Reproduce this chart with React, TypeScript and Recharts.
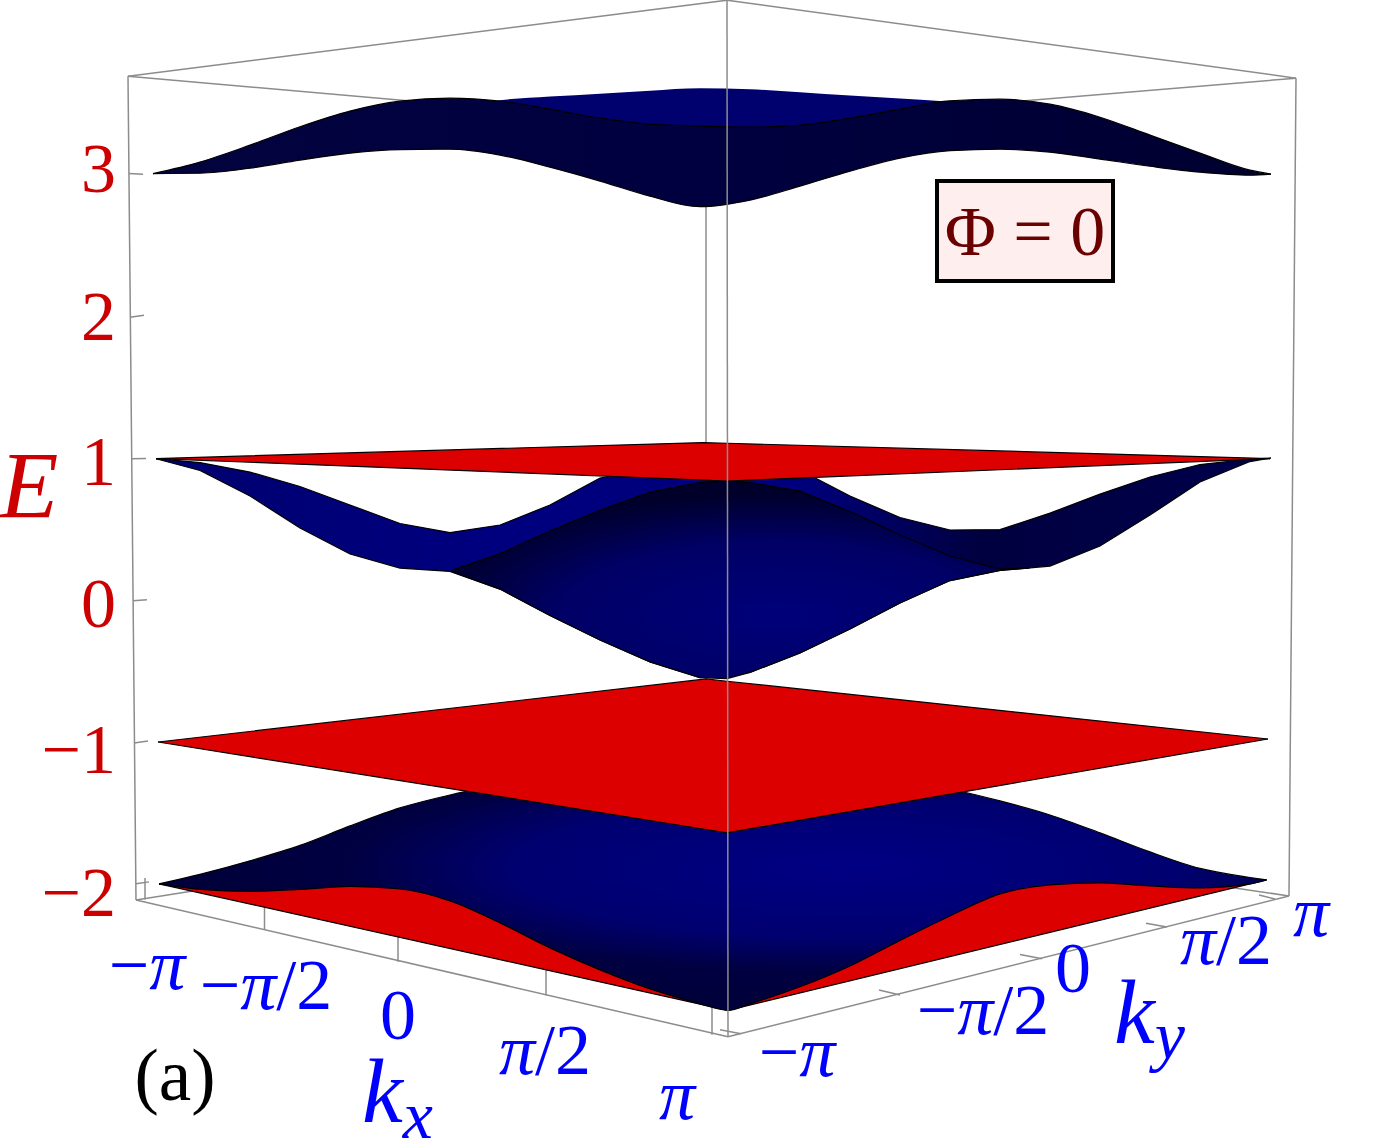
import React from 'react';
import { Area, ComposedChart, Line, ReferenceArea, ReferenceDot, XAxis, YAxis } from 'recharts';

// h = horizontal position in the projected view, E = energy as on the left axis
const SERIF = '"Liberation Serif", serif';
const RED = '#dd0000';
const TICK_RED = '#cc0000';
const BLUE = '#0000ff';
const GREY = '#8c8c8c';

const eTicks = [3, 2, 1, 0, -1, -2];
const eTickShift = [18, 24, 27, 27, 31, 32];

// upper band, around E = 3
const topH = [-5.47, -5, -4.5, -4, -3.5, -3, -2.5, -2, -1.5, -1, -0.5, 0, 0.5, 1, 1.5, 2, 2.5, 3, 3.5, 4, 4.5, 5, 5.5, 5.71];
const topUpper = [3.003, 3.084, 3.203, 3.333, 3.443, 3.513, 3.534, 3.513, 3.457, 3.393, 3.351, 3.337, 3.33, 3.344, 3.393, 3.457, 3.516, 3.527, 3.492, 3.4, 3.274, 3.147, 3.027, 2.999];
const topLower = [3.003, 3.006, 3.041, 3.098, 3.147, 3.172, 3.175, 3.133, 3.048, 2.95, 2.844, 2.77, 2.816, 2.915, 3.02, 3.112, 3.164, 3.175, 3.154, 3.105, 3.055, 3.013, 2.992, 2.999];

const topBackH = [-2.5, -2, -1.5, -1, -0.5, 0, 0.5, 1, 1.5, 2, 2.5];
const topBackUpper = [3.464, 3.52, 3.545, 3.566, 3.587, 3.604, 3.597, 3.576, 3.552, 3.531, 3.509];
const topBackLower = [3.3, 3.3, 3.3, 3.3, 3.3, 3.3, 3.3, 3.3, 3.3, 3.3, 3.3];

// flat band at E = 1
const flatHighH = [-5.44, 0.03, 0.27, 5.7];
const flatHighUpper = [0.996, 1.109, 1.104, 0.996];
const flatHighLower = [0.996, 0.845, 0.838, 0.996];

// middle band, the wings behind and the dome in front
const wingH = [-5.44, -5, -4.5, -4, -3.5, -3, -2.5, -2, -1.5, -1, -0.5, 0, 0.5, 1, 1.5, 2, 2.5, 3, 3.5, 4, 4.5, 5, 5.5, 5.71];
const wingUpper = [0.995, 0.968, 0.901, 0.799, 0.669, 0.539, 0.475, 0.528, 0.669, 0.859, 0.915, 0.915, 0.915, 0.915, 0.732, 0.581, 0.493, 0.496, 0.612, 0.746, 0.866, 0.954, 0.993, 1];
const wingLower = [0.995, 0.912, 0.732, 0.507, 0.324, 0.225, 0.201, 0.077, -0.109, -0.282, -0.436, -0.546, -0.51, -0.373, -0.204, -0.021, 0.137, 0.208, 0.239, 0.38, 0.598, 0.831, 0.975, 1];

const domeH = [-2.48, -2, -1.5, -1, -0.5, 0, 0.27, 0.5, 1, 1.5, 2, 2.5, 3, 3.295];
const domeUpper = [0.211, 0.327, 0.486, 0.634, 0.76, 0.827, 0.838, 0.827, 0.767, 0.623, 0.458, 0.31, 0.218, 0.226];
const domeLower = [0.199, 0.077, -0.109, -0.282, -0.436, -0.546, -0.553, -0.51, -0.373, -0.204, -0.021, 0.137, 0.208, 0.226];

// flat band at E = -1
const flatLowH = [-5.42, 0.06, 0.27, 5.68];
const flatLowUpper = [-1, -0.556, -0.572, -0.979];
const flatLowLower = [-1, -1.616, -1.64, -0.979];

// lowest blue band and the flat red one under it
const bottomH = [-5.41, -5, -4.5, -4, -3.5, -3, -2.5, -2, -1.5, -1, -0.5, 0, 0.28, 0.5, 1, 1.5, 2, 2.5, 3, 3.5, 4, 4.5, 5, 5.5, 5.665];
const bottomUpper = [-1.999, -1.932, -1.837, -1.728, -1.591, -1.464, -1.373, -1.302, -1.267, -1.267, -1.267, -1.267, -1.267, -1.267, -1.267, -1.267, -1.267, -1.331, -1.415, -1.514, -1.64, -1.774, -1.89, -1.954, -1.971];
const bottomLower = [-1.999, -2.038, -2.052, -2.038, -2.017, -2.035, -2.119, -2.274, -2.45, -2.605, -2.739, -2.844, -2.89, -2.844, -2.724, -2.577, -2.397, -2.225, -2.07, -2.006, -1.992, -2.013, -2.028, -1.999, -1.971];

const floorH = [-5.41, 0.28, 5.665];
const floorUpper = [-1.999, -1.83, -1.971];
const floorLower = [-1.999, -2.89, -1.971];

// box edges and tick marks, each one a [h, E, h, E] pair
const backEdges = [
  [-5.72, 3.689, 0.06, 3.33],
  [5.96, 3.675, 0.06, 3.33],
  [0.06, 3.33, 0.06, -1.478],
  [-5.64, -2.112, 0.06, -1.478],
  [5.89, -2.084, 0.06, -1.478],
];
const frontEdges = [
  [-5.72, 3.689, 0.27, 4.224],
  [0.27, 4.224, 5.96, 3.675],
  [-5.72, 3.689, -5.64, -2.112],
  [5.96, 3.675, 5.89, -2.084],
  [-5.64, -2.112, 0.28, -3.076],
  [0.28, -3.076, 5.89, -2.084],
];
const frontPost = [[0.27, 4.224, 0.28, -3.076]];
const kxMarks = [
  [-5.55, -1.957, -5.55, -2.109],
  [-4.355, -2.147, -4.355, -2.323],
  [-3.02, -2.351, -3.02, -2.548],
  [-1.54, -2.584, -1.54, -2.785],
  [0.12, -2.851, 0.12, -3.062],
];
const kyMarks = [
  [0.2, -3.027, 0.41, -3.055],
  [1.79, -2.746, 2.0, -2.781],
  [3.2, -2.496, 3.42, -2.527],
  [4.46, -2.277, 4.67, -2.302],
  [5.59, -2.077, 5.75, -2.105],
];
const eMarks = [
  [-5.71, 3.003, -5.57, 2.999],
  [-5.7, 1.992, -5.56, 2.006],
  [-5.68, 0.995, -5.54, 0.996],
  [-5.67, -0.005, -5.53, 0.002],
  [-5.66, -1.007, -5.52, -0.993],
  [-5.64, -1.999, -5.51, -1.985],
];

const kxLabels = ['−π', '−π/2', '0', 'π/2', 'π'];
const kxLabelH = [-5.53, -4.34, -3.02, -1.55, -0.23];
const kxLabelE = [-2.57, -2.71, -2.922, -3.168, -3.485];
const kyLabels = ['−π', '−π/2', '0', 'π/2', 'π'];
const kyLabelH = [0.97, 2.83, 3.73, 5.26, 6.11];
const kyLabelE = [-3.182, -2.886, -2.591, -2.394, -2.196];

const band = (hs: number[], upper: number[], lower: number[]) =>
  hs.map((h, i) => ({ h, range: [lower[i], upper[i]] }));

const segment = (s: number[]) => [
  { h: s[0], e: s[1] },
  { h: s[2], e: s[3] },
];

const ETick = (props: any) => {
  const i = eTicks.indexOf(props.payload.value);
  const label = props.payload.value < 0 ? `−${-props.payload.value}` : `${props.payload.value}`;
  return (
    <text x={116} y={props.y + eTickShift[i]} textAnchor="end" fontFamily={SERIF} fontSize={70} fill={TICK_RED}>
      {label}
    </text>
  );
};

// pi is set in italics, the rest upright
const piLabel = (label: string) => (props: any) => (
  <text x={props.cx} y={props.cy + 24} textAnchor="middle" fontFamily={SERIF} fontSize={72} fill={BLUE}>
    {label.split('').map((c, i) => (
      <tspan key={i} fontStyle={c === 'π' ? 'italic' : 'normal'}>
        {c}
      </tspan>
    ))}
  </text>
);

const subLabel = (main: string, sub: string) => (props: any) => (
  <text x={props.cx} y={props.cy} fontFamily={SERIF} fontStyle="italic" fontSize={92} fill={BLUE}>
    {main}
    <tspan fontSize={68} dy={16}>
      {sub}
    </tspan>
  </text>
);

const plainLabel = (text: string, size: number, color: string, italic = false) => (props: any) => (
  <text
    x={props.cx}
    y={props.cy}
    textAnchor="middle"
    fontFamily={SERIF}
    fontSize={size}
    fontStyle={italic ? 'italic' : 'normal'}
    fill={color}
  >
    {text}
  </text>
);

// z 50 keeps the box behind the surfaces, only the front post goes over them
const grey = (list: number[][], name: string, z = 50) =>
  list.map((s, i) => (
    <Line
      key={`${name}-${i}`}
      data={segment(s)}
      dataKey="e"
      stroke={GREY}
      strokeWidth={1.5}
      dot={false}
      activeDot={false}
      legendType="none"
      isAnimationActive={false}
      zIndex={z}
    />
  ));

const surface = (key: string, data: any[], fill: string, curve: any, stroke = '#000') => (
  <Area
    key={key}
    data={data}
    dataKey="range"
    type={curve}
    fill={fill}
    fillOpacity={1}
    stroke={stroke}
    strokeWidth={1.2}
    dot={false}
    activeDot={false}
    legendType="none"
    isAnimationActive={false}
  />
);

export default function App() {
  return (
    <div style={{ position: 'absolute', left: 0, top: 0, width: 1400, height: 1140, background: '#fff' }}>
      <ComposedChart width={1400} height={1140} margin={{ top: 0, right: 0, bottom: 0, left: 0 }}>
        <defs>
          <linearGradient id="topFront" x1="0" y1="0" x2="1" y2="0">
            <stop offset="0" stopColor="#03033f" />
            <stop offset="0.5" stopColor="#000040" />
            <stop offset="1" stopColor="#000030" />
          </linearGradient>
          <linearGradient id="wings" x1="0" y1="0" x2="1" y2="0">
            <stop offset="0" stopColor="#000070" />
            <stop offset="0.3" stopColor="#00007f" />
            <stop offset="0.58" stopColor="#00007c" />
            <stop offset="0.74" stopColor="#000040" />
            <stop offset="1" stopColor="#00004c" />
          </linearGradient>
          <radialGradient id="dome" cx="0.56" cy="0.68" r="0.62">
            <stop offset="0" stopColor="#00007a" />
            <stop offset="0.6" stopColor="#000066" />
            <stop offset="1" stopColor="#00002a" />
          </radialGradient>
          <radialGradient id="bottom" cx="0.62" cy="0.38" r="0.6">
            <stop offset="0" stopColor="#000084" />
            <stop offset="0.5" stopColor="#000070" />
            <stop offset="0.75" stopColor="#000042" />
            <stop offset="1" stopColor="#00003a" />
          </radialGradient>
        </defs>
        <XAxis dataKey="h" type="number" domain={[-7, 7]} hide allowDataOverflow />
        <YAxis
          type="number"
          domain={[-3.8028, 4.2254]}
          ticks={eTicks}
          interval={0}
          mirror
          axisLine={false}
          tickLine={false}
          tick={ETick}
          allowDataOverflow
        />

        {grey(backEdges, 'back')}
        {grey(frontEdges, 'front')}
        {grey(kxMarks, 'kx')}
        {grey(kyMarks, 'ky')}
        {grey(eMarks, 'e')}

        {surface('floor', band(floorH, floorUpper, floorLower), RED, 'linear')}
        {surface('bottom', band(bottomH, bottomUpper, bottomLower), 'url(#bottom)', 'monotone')}
        {surface('flatLow', band(flatLowH, flatLowUpper, flatLowLower), RED, 'linear')}
        {surface('wings', band(wingH, wingUpper, wingLower), 'url(#wings)', 'linear')}
        {surface('dome', band(domeH, domeUpper, domeLower), 'url(#dome)', 'linear')}
        {surface('flatHigh', band(flatHighH, flatHighUpper, flatHighLower), RED, 'linear')}
        {surface('topBack', band(topBackH, topBackUpper, topBackLower), '#00006e', 'monotone', 'none')}
        {surface('topFront', band(topH, topUpper, topLower), 'url(#topFront)', 'monotone')}

        {grey(frontPost, 'post', 400)}

        <ReferenceArea x1={2.37} x2={4.13} y1={2.246} y2={2.95} fill="#ffeeee" fillOpacity={1} stroke="#000" strokeWidth={4} />
        <ReferenceDot x={3.25} y={2.429} r={0} shape={plainLabel('Φ = 0', 70, '#6b0000')} />

        {kxLabels.map((label, i) => (
          <ReferenceDot key={`kx-${i}`} x={kxLabelH[i]} y={kxLabelE[i]} r={0} shape={piLabel(label)} />
        ))}
        {kyLabels.map((label, i) => (
          <ReferenceDot key={`ky-${i}`} x={kyLabelH[i]} y={kyLabelE[i]} r={0} shape={piLabel(label)} />
        ))}

        <ReferenceDot x={-3.38} y={-3.676} r={0} shape={subLabel('k', 'x')} />
        <ReferenceDot x={4.14} y={-3.12} r={0} shape={subLabel('k', 'y')} />
        <ReferenceDot x={-6.71} y={0.575} r={0} shape={plainLabel('E', 96, TICK_RED, true)} />
        <ReferenceDot x={-5.25} y={-3.52} r={0} shape={plainLabel('(a)', 73, '#000')} />
      </ComposedChart>
    </div>
  );
}
